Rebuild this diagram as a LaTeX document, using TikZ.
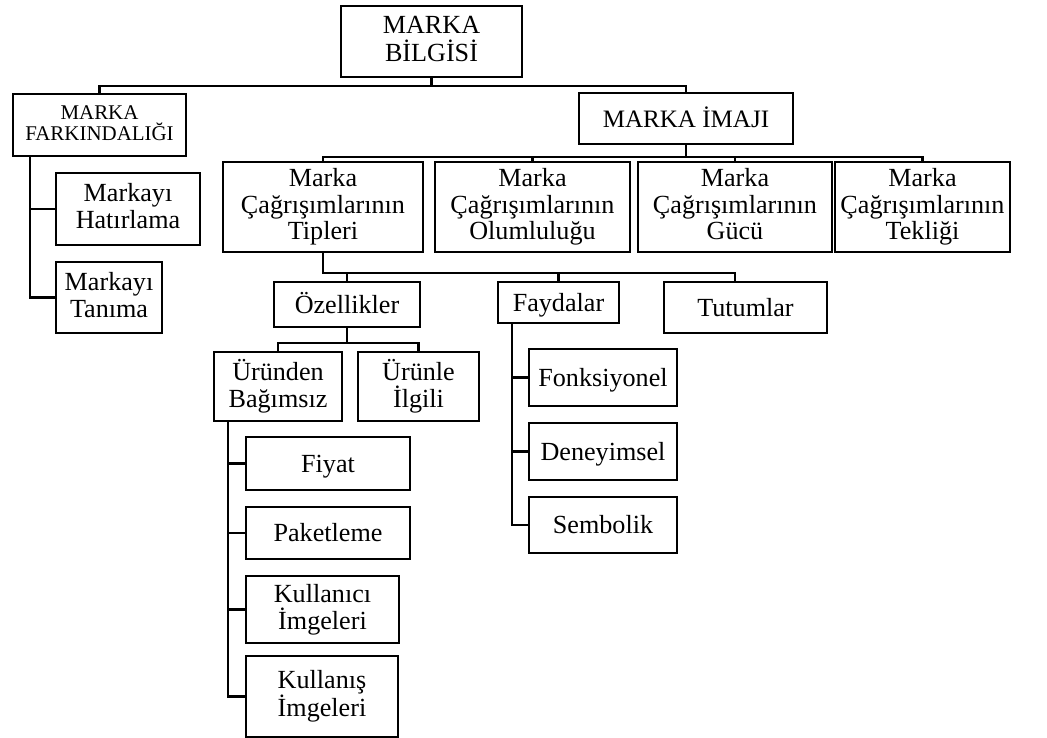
\documentclass[tikz,border=0pt]{standalone}
\usepackage{fontspec}
\setmainfont{Liberation Serif}
% struts that put the cap-height middle of the text block on the node centre
\newcommand\topstrut{\rule{0pt}{0.9em}}
\newcommand\botstrut{\rule[-0.22em]{0pt}{0.22em}}
\begin{document}
\begin{tikzpicture}[x=0.75pt,y=-0.75pt,
  box/.style 2 args={draw, line width=2.2pt, inner sep=0pt, align=center,
    minimum width=#1*0.75pt, minimum height=#2*0.75pt,
    font=\fontsize{19.6}{20}\selectfont,
    execute at begin node=\topstrut, execute at end node=\botstrut},
  wire/.style={line width=2.2pt, line cap=rect}]
\useasboundingbox (0,0) rectangle (1047,738);

% top levels
\node[box={181}{71}, font=\fontsize{19.6}{21}\selectfont] (bilgi) at (431.5,41.5) {MARKA\\BİLGİSİ};
\node[box={173}{62}, font=\fontsize{15.7}{15.8}\selectfont] (fark) at (99.5,125) {MARKA\\FARKINDALIĞI};
\node[box={214}{51}, font=\fontsize{18.8}{20}\selectfont] (imaj) at (686,118.5) {MARKA İMAJI};

% awareness branch
\node[box={144}{72}] (hat) at (128,209) {Markayı\\Hatırlama};
\node[box={106}{71}] (tan) at (109,297.5) {Markayı\\Tanıma};

% image branch
\node[box={200}{90}] (tip) at (323,207) {Marka\\Çağrışımlarının\\Tipleri};
\node[box={195}{90}] (olum) at (532.5,207) {Marka\\Çağrışımlarının\\Olumluluğu};
\node[box={194}{90}] (guc) at (735,207) {Marka\\Çağrışımlarının\\Gücü};
\node[box={175}{90}] (tek) at (922.5,207) {Marka\\Çağrışımlarının\\Tekliği};

% types
\node[box={146}{45}] (ozel) at (347,304.5) {Özellikler};
\node[box={121}{41}] (fay) at (558.5,302.5) {Faydalar};
\node[box={163}{51}] (tut) at (745.5,307.5) {Tutumlar};

% attributes
\node[box={128}{69}] (urb) at (278,386.5) {Üründen\\Bağımsız};
\node[box={121}{69}] (uri) at (418.5,386.5) {Ürünle\\İlgili};
\node[box={164}{53}] (fiy) at (328,463.5) {Fiyat};
\node[box={164}{52}] (pak) at (328,533) {Paketleme};
\node[box={153}{67}] (kui) at (322.5,609.5) {Kullanıcı\\İmgeleri};
\node[box={152}{81}] (kus) at (322,696.5) {Kullanış\\İmgeleri};

% benefits
\node[box={148}{57}] (fon) at (603,377.5) {Fonksiyonel};
\node[box={148}{57}] (den) at (603,451.5) {Deneyimsel};
\node[box={148}{56}] (sem) at (603,525) {Sembolik};

% bus lines and spines
\coordinate (b1) at (0,86);
\coordinate (b2) at (0,157);
\coordinate (t3) at (735,273);
\coordinate (b4) at (0,343);
\coordinate (sf) at (30,0);
\coordinate (su) at (228,0);
\coordinate (sy) at (512,0);

\draw[wire] (bilgi.south) -- (bilgi.south |- b1);
\draw[wire] (fark.north) |- (b1 -| imaj.north) -- (imaj.north);

\draw[wire] (imaj.south) -- (imaj.south |- b2);
\draw[wire] (tip.north) |- (b2 -| tek.north) -- (tek.north);
\draw[wire] (olum.north) -- (olum.north |- b2);
\draw[wire] (guc.north) -- (guc.north |- b2);

\draw[wire] (tip.south) |- (t3) -- (t3 |- tut.north);
\draw[wire] (ozel.north) -- (ozel.north |- t3);
\draw[wire] (fay.north) -- (fay.north |- t3);

\draw[wire] (ozel.south) -- (ozel.south |- b4);
\draw[wire] (urb.north) |- (b4 -| uri.north) -- (uri.north);

\draw[wire] (fark.south -| sf) |- (tan.west);
\draw[wire] (hat.west) -- (hat.west -| sf);

\draw[wire] (urb.south -| su) |- (kus.west);
\draw[wire] (fiy.west) -- (fiy.west -| su);
\draw[wire] (pak.west) -- (pak.west -| su);
\draw[wire] (kui.west) -- (kui.west -| su);

\draw[wire] (fay.south -| sy) |- (sem.west);
\draw[wire] (fon.west) -- (fon.west -| sy);
\draw[wire] (den.west) -- (den.west -| sy);
\end{tikzpicture}
\end{document}
